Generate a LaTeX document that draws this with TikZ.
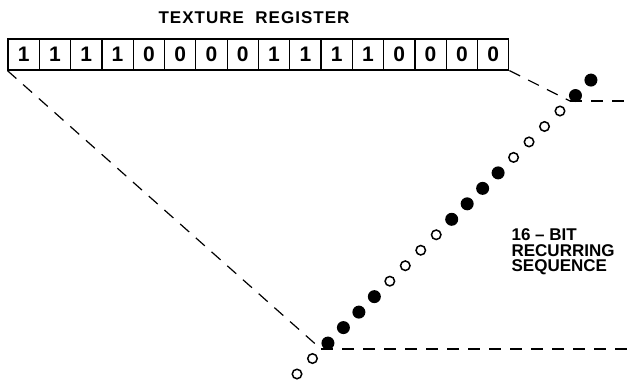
\documentclass[tikz,border=0pt]{standalone}
\usepackage{fontspec}
\setmainfont{Liberation Sans}
\newfontfamily\spacedfont[LetterSpace=6]{Liberation Sans}
\begin{document}
\begin{tikzpicture}[x=1pt,y=-1pt,line width=1.2pt,every node/.style={font=\bfseries,inner sep=0pt}]
\tikzset{cell/.style={draw,minimum width=31.3pt,minimum height=31pt,font=\bfseries\fontsize{21}{21}\selectfont},
  bit1/.style={circle,fill,minimum size=13pt},
  bit0/.style={circle,draw,line width=1.5pt,minimum size=9.5pt},
  guide/.style={dash pattern=on 12pt off 9pt}}
\useasboundingbox (0,0) rectangle (633,380);
\node[font={\spacedfont\bfseries\fontsize{17}{17}\selectfont}] (title) at (254,18) {TEXTURE\ \ REGISTER};
\foreach \b [count=\i from 0] in {1,1,1,1,0,0,0,0,1,1,1,1,0,0,0,0}
  \node[cell] (c\i) at ({23.65+31.3*\i},54.5) {\b};
\foreach \b [count=\i from 0] in {0,0,1,1,1,1,0,0,0,0,1,1,1,1,0,0,0,0,1,1}
  \node[bit\b] (d\i) at ({297+15.47*\i},{374-15.47*\i}) {};
\coordinate (lo) at (321,349);
\coordinate (hi) at (570,101);
\coordinate (loend) at (633,349);
\coordinate (hiend) at (633,101);
\draw[guide] (c0.south west) -- (lo);
\draw[guide] (lo) -- (loend);
\draw[guide] (c15.south east) -- (hi);
\draw[guide] (hi) -- (hiend);
\node[anchor=west,align=left,font=\bfseries\fontsize{17}{15.5}\selectfont] (seq) at (511,252) {16 -- BIT\\RECURRING\\SEQUENCE};
\end{tikzpicture}
\end{document}
